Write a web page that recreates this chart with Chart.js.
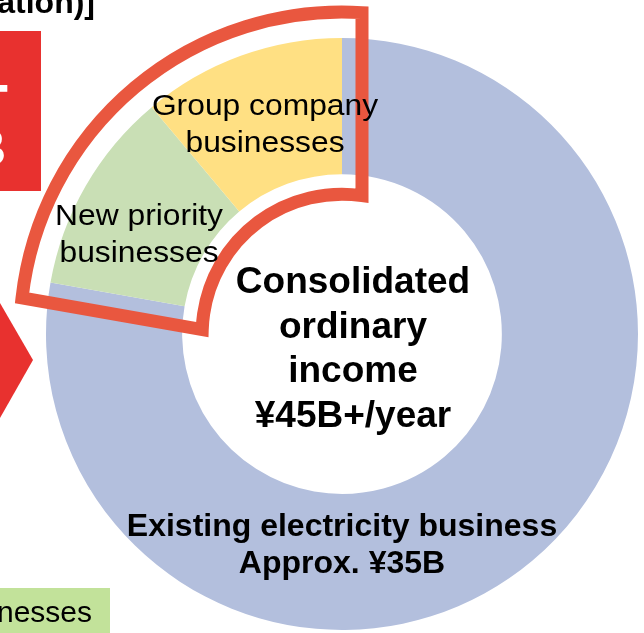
<!DOCTYPE html>
<html>
<head>
<meta charset="utf-8">
<script src="https://cdn.jsdelivr.net/npm/chart.js@4"></script>
<style>
  html, body { margin: 0; padding: 0; background: #fff; }
  #wrap { width: 644px; height: 633px; }
</style>
</head>
<body>
<div id="wrap"><canvas id="incomeChart" width="644" height="633"></canvas></div>
<script>
// Income breakdown (¥B / year), clockwise from 12 o'clock
const segments = ["Existing electricity business", "New priority businesses", "Group company businesses"];
const incomeValues = [35, 5, 5];
const segmentColors = ["#B3BFDD", "#C9DFB5", "#FFE083"];

const centerLines = ["Consolidated", "ordinary", "income", "¥45B+/year"];
const existingLines = ["Existing electricity business", "Approx. ¥35B"];
const groupLines = ["Group company", "businesses"];
const priorityLines = ["New priority", "businesses"];

const FONT = "'Liberation Sans', Arial, sans-serif";

// draw a few lines of centered text, optionally stretched horizontally
function drawLines(ctx, lines, cx, firstBaseline, step, font, stretch) {
  ctx.save();
  ctx.font = font;
  ctx.fillStyle = "#000";
  ctx.textAlign = "center";
  ctx.textBaseline = "alphabetic";
  lines.forEach((t, i) => {
    ctx.save();
    ctx.translate(cx, firstBaseline + i * step);
    ctx.scale(stretch || 1, 1);
    ctx.fillText(t, 0, 0);
    ctx.restore();
  });
  ctx.restore();
}

// slide pieces that are cut off at the left edge of the picture
const slideBits = {
  id: "slideBits",
  beforeDraw(chart) {
    const ctx = chart.ctx;
    ctx.save();
    ctx.fillStyle = "#000";
    ctx.font = "bold 32px " + FONT;
    ctx.textAlign = "right";
    ctx.fillText("ation)]", 95, 13);

    ctx.fillStyle = "#E8312F";
    ctx.fillRect(0, 31, 41, 160);
    ctx.save();
    ctx.beginPath();
    ctx.rect(0, 31, 41, 160);
    ctx.clip();
    ctx.fillStyle = "#fff";
    ctx.font = "bold 60px " + FONT;
    ctx.fillText("T", 8, 126);
    ctx.font = "bold 50px " + FONT;
    ctx.fillText("B", 6, 165);
    ctx.restore();

    ctx.beginPath();
    ctx.moveTo(0, 303);
    ctx.lineTo(33, 360);
    ctx.lineTo(0, 418);
    ctx.closePath();
    ctx.fill();

    ctx.fillStyle = "#C2E29A";
    ctx.fillRect(0, 588, 110, 45);
    ctx.fillStyle = "#000";
    ctx.font = "30px " + FONT;
    ctx.fillText("nesses", 92, 622);
    ctx.restore();
  }
};

// red frame around the two growth segments, offset from their arcs
const growthFrame = {
  id: "growthFrame",
  afterDatasetsDraw(chart) {
    const arcs = chart.getDatasetMeta(0).data;
    const first = arcs[1].getProps(["x", "y", "startAngle", "innerRadius", "outerRadius"], true);
    const last = arcs[2].getProps(["endAngle"], true);
    const x = first.x, y = first.y;
    const d = 20;
    const Ro = first.outerRadius + 26;
    const Ri = first.innerRadius - 20;
    const a1o = first.startAngle - Math.asin(d / Ro);
    const a2o = last.endAngle + Math.asin(d / Ro);
    const a1i = first.startAngle - Math.asin(d / Ri);
    const a2i = last.endAngle + Math.asin(d / Ri);
    const ctx = chart.ctx;
    ctx.save();
    ctx.beginPath();
    ctx.arc(x, y, Ro, a1o, a2o);
    ctx.lineTo(x + Ri * Math.cos(a2i), y + Ri * Math.sin(a2i));
    ctx.arc(x, y, Ri, a2i, a1i, true);
    ctx.closePath();
    ctx.strokeStyle = "#E9573F";
    ctx.lineWidth = 13;
    ctx.lineJoin = "miter";
    ctx.stroke();
    ctx.restore();
  }
};

const labelText = {
  id: "labelText",
  afterDraw(chart) {
    const ctx = chart.ctx;
    const c = chart.getDatasetMeta(0).data[0];
    const x = c.x, y = c.y;
    drawLines(ctx, centerLines, x + 11, y - 41, 44.5, "bold 37px " + FONT);
    drawLines(ctx, existingLines, x, y + 202, 37, "bold 32px " + FONT);
    drawLines(ctx, groupLines, x - 77, y - 219, 37, "30px " + FONT, 1.06);
    drawLines(ctx, priorityLines, x - 203, y - 109, 37, "30px " + FONT, 1.06);
  }
};

new Chart(document.getElementById("incomeChart"), {
  type: "doughnut",
  data: {
    labels: segments,
    datasets: [{
      data: incomeValues,
      backgroundColor: segmentColors,
      borderWidth: 0,
      hoverOffset: 0
    }]
  },
  options: {
    responsive: false,
    animation: false,
    cutout: "54%",
    rotation: 0,
    layout: { padding: { left: 46, right: 6, top: 38, bottom: 3 } },
    plugins: {
      legend: { display: false },
      tooltip: { enabled: false }
    }
  },
  plugins: [slideBits, growthFrame, labelText]
});
</script>
</body>
</html>
